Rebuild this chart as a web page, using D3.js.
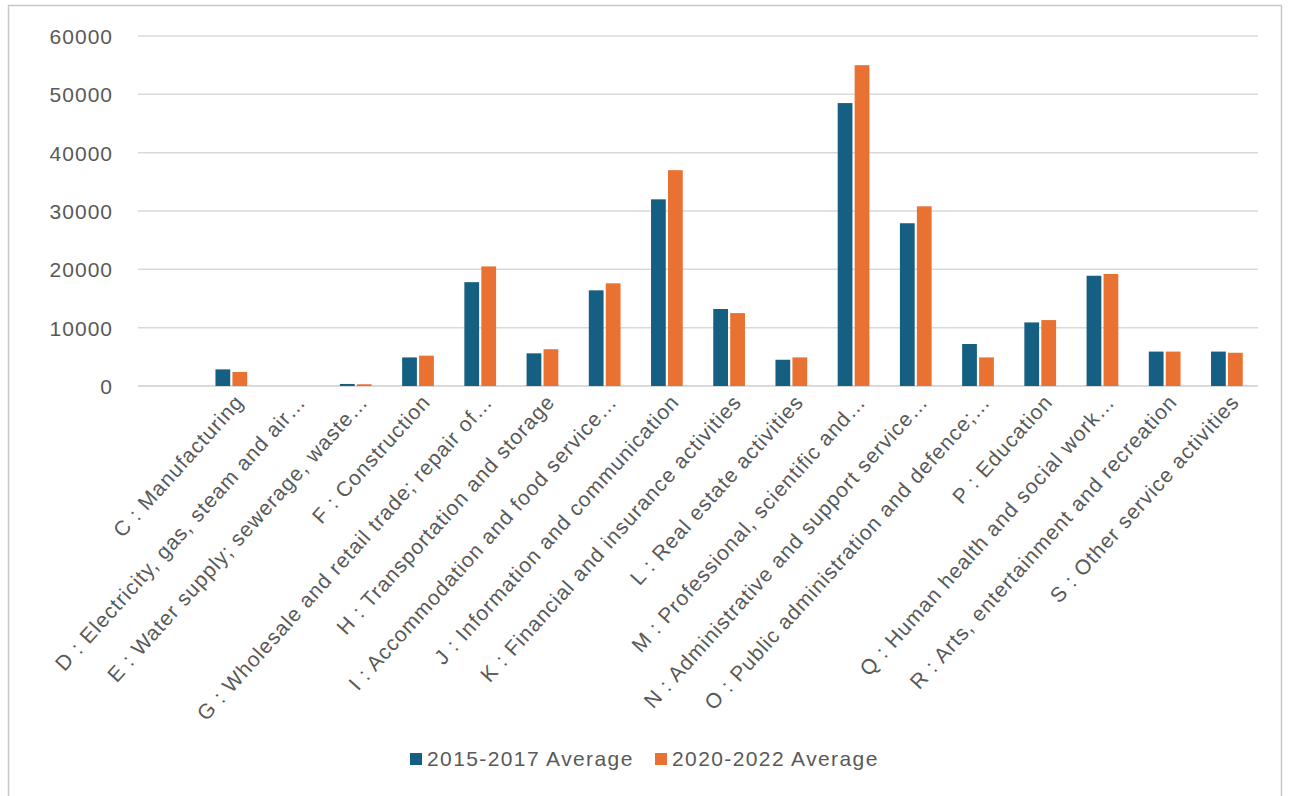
<!DOCTYPE html>
<html>
<head>
<meta charset="utf-8">
<script src="https://cdn.jsdelivr.net/npm/d3@7"></script>
<style>
  html, body { margin: 0; padding: 0; background: #ffffff; }
  svg { display: block; }
  text { font-family: "Liberation Sans", Arial, sans-serif; fill: #595959; }
</style>
</head>
<body>
<svg id="chart" width="1289" height="796"></svg>
<script>
// Industry sections (first slot is an unlabelled blank row)
const categories = [
  "",
  "C : Manufacturing",
  "D : Electricity, gas, steam and air…",
  "E : Water supply; sewerage, waste…",
  "F : Construction",
  "G : Wholesale and retail trade; repair of…",
  "H : Transportation and storage",
  "I : Accommodation and food service…",
  "J : Information and communication",
  "K : Financial and insurance activities",
  "L : Real estate activities",
  "M : Professional, scientific and…",
  "N : Administrative and support service…",
  "O : Public administration and defence;…",
  "P : Education",
  "Q : Human health and social work…",
  "R : Arts, entertainment and recreation",
  "S : Other service activities"
];

const seriesNames = ["2015-2017 Average", "2020-2022 Average"];

const avg2015_2017 = [null, 2850, 0, 350, 4900, 17800, 5600, 16400, 32000, 13200, 4500, 48500, 27900, 7200, 10900, 18900, 5900, 5900];
const avg2020_2022 = [null, 2400, 0, 300, 5200, 20500, 6300, 17600, 37000, 12500, 4900, 55000, 30800, 4900, 11300, 19200, 5900, 5700];

const yTicks = [0, 10000, 20000, 30000, 40000, 50000, 60000];

const colors = ["#156082", "#E97132"];

const svg = d3.select("#chart");

// outer chart frame
svg.append("rect")
  .attr("x", 8.5).attr("y", 5.5)
  .attr("width", 1273).attr("height", 800)
  .attr("fill", "#ffffff")
  .attr("stroke", "#c8c8c8").attr("stroke-width", 1.5);

const plot = { left: 138, right: 1258, top: 36, bottom: 386 };

const x0 = d3.scaleBand()
  .domain(categories.map((c, i) => i))
  .range([plot.left, plot.right])
  .paddingInner(0.49)
  .paddingOuter(0.245);

const x1 = d3.scaleBand()
  .domain(seriesNames)
  .range([0, x0.bandwidth()])
  .paddingInner(0.13);

const y = d3.scaleLinear()
  .domain([0, 60000])
  .range([plot.bottom, plot.top]);

// horizontal gridlines
svg.append("g")
  .selectAll("line")
  .data(yTicks)
  .join("line")
  .attr("x1", plot.left).attr("x2", plot.right)
  .attr("y1", d => y(d)).attr("y2", d => y(d))
  .attr("stroke", "#d9d9d9")
  .attr("stroke-width", d => d === 0 ? 2 : 1.5);

// y axis labels
const yAxis = d3.axisLeft(y).tickValues(yTicks).tickSize(0).tickPadding(0)
  .tickFormat(d3.format("d"));
const yg = svg.append("g")
  .attr("transform", `translate(${113},0)`)
  .call(yAxis);
yg.select(".domain").remove();
yg.selectAll("text")
  .attr("font-size", 21)
  .attr("letter-spacing", "1px")
  .attr("font-family", "Liberation Sans, Arial, sans-serif")
  .attr("fill", "#595959")
  .attr("dy", "0.35em");

// bars
const rows = categories.map((c, i) => ({
  i,
  values: [avg2015_2017[i], avg2020_2022[i]]
}));

const groups = svg.append("g")
  .selectAll("g")
  .data(rows)
  .join("g")
  .attr("transform", d => `translate(${x0(d.i)},0)`);

groups.selectAll("rect")
  .data(d => d.values.map((v, k) => ({ v, k })).filter(e => e.v !== null && e.v > 0))
  .join("rect")
  .attr("x", e => x1(seriesNames[e.k]))
  .attr("width", x1.bandwidth())
  .attr("y", e => y(e.v))
  .attr("height", e => y(0) - y(e.v))
  .attr("fill", e => colors[e.k]);

// rotated category labels
svg.append("g")
  .selectAll("text")
  .data(categories.map((c, i) => ({ c, i })).filter(d => d.c !== ""))
  .join("text")
  .attr("transform", d => `translate(${x0(d.i) + x0.bandwidth() / 2 + 8},${plot.bottom + 12}) rotate(-48)`)
  .attr("text-anchor", "end")
  .attr("dy", "0.35em")
  .attr("font-size", 21)
  .attr("letter-spacing", "1px")
  .text(d => d.c);

// legend
const legend = svg.append("g");
const legendItems = [
  { name: seriesNames[0], color: colors[0], x: 410 },
  { name: seriesNames[1], color: colors[1], x: 655 }
];
const li = legend.selectAll("g")
  .data(legendItems)
  .join("g")
  .attr("transform", d => `translate(${d.x},0)`);
li.append("rect")
  .attr("x", 0).attr("y", 753)
  .attr("width", 12).attr("height", 12)
  .attr("fill", d => d.color);
li.append("text")
  .attr("x", 17).attr("y", 766)
  .attr("font-size", 21)
  .attr("letter-spacing", "1.4px")
  .text(d => d.name);
</script>
</body>
</html>
